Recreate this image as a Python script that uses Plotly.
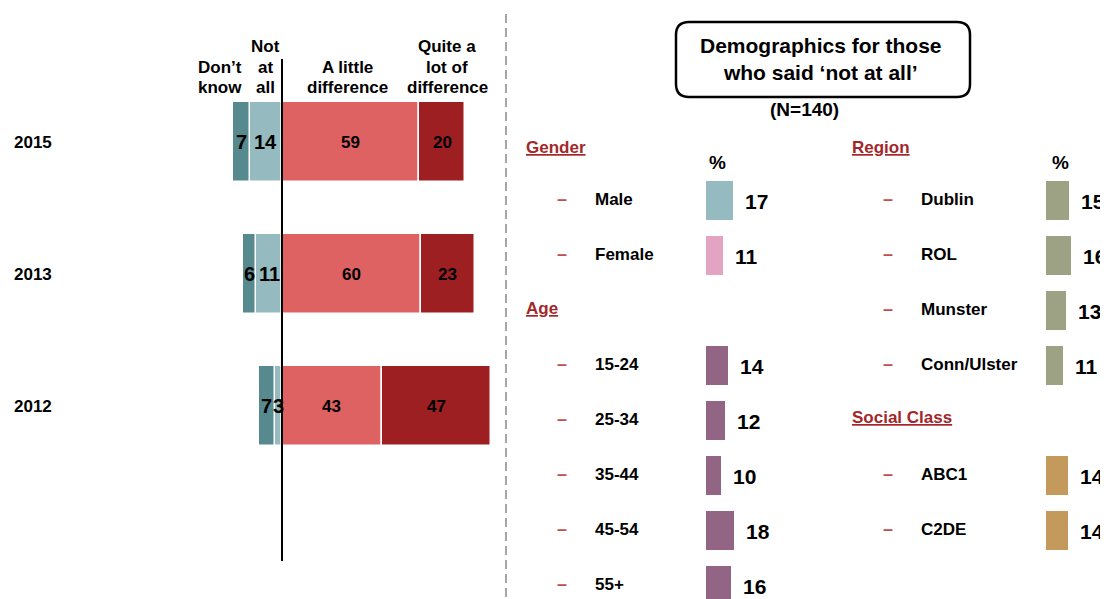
import plotly.graph_objects as go

# page is rendered with an 8px body margin, so the figure is offset by 8px
OFF = 8
PAGE_W, PAGE_H = 1108, 599
W, H = PAGE_W - OFF, PAGE_H - OFF
def px(x): return (x - OFF) / W
def py(y): return 1 - (y - OFF) / H

FONT = "Liberation Sans, Arial, sans-serif"

# ---------------- data ----------------
years = ["2015", "2013", "2012"]
dont_know = [7, 6, 7]
not_at_all = [14, 11, 3]
a_little = [59, 60, 43]
quite_a_lot = [20, 23, 47]

gender_labels = ["Male", "Female"]
gender_values = [17, 11]
age_labels = ["15-24", "25-34", "35-44", "45-54", "55+"]
age_values = [14, 12, 10, 18, 16]
region_labels = ["Dublin", "ROL", "Munster", "Conn/Ulster"]
region_values = [15, 16, 13, 11]
class_labels = ["ABC1", "C2DE"]
class_values = [14, 14]

# ---------------- styles ----------------
C_DK = "#578A8F"
C_NA = "#95BAC0"
C_LD = "#DE6262"
C_QL = "#9D1F22"
C_MALE = "#95BAC0"
C_FEMALE = "#E3A4C4"
C_AGE = "#926584"
C_REGION = "#9CA283"
C_CLASS = "#C49A5C"
C_HEAD = "#A3272A"
C_DASH = "#C0504D"

fig = go.Figure()
annotations = []

# ---------------- left diverging chart ----------------
year_idx = list(range(len(years)))

def seg(vals, neg, color):
    return go.Bar(
        y=year_idx, x=[-v if neg else v for v in vals], orientation="h",
        marker=dict(color=color, line=dict(color="white", width=1.5)),
        width=0.61, hoverinfo="skip", xaxis="x", yaxis="y",
    )

fig.add_trace(seg(not_at_all, True, C_NA))
fig.add_trace(seg(dont_know, True, C_DK))
fig.add_trace(seg(a_little, False, C_LD))
fig.add_trace(seg(quite_a_lot, False, C_QL))

def seg_label(x, yi, v, size):
    annotations.append(dict(x=x, xref="x", y=yi, yref="y", text=str(v),
                            xanchor="center", yanchor="middle", showarrow=False,
                            font=dict(family=FONT, size=size, color="black", weight="bold")))

for i in year_idx:
    na, dk, al, ql = not_at_all[i], dont_know[i], a_little[i], quite_a_lot[i]
    seg_label(-na / 2, i, na, 20)
    seg_label(-(na + dk / 2), i, dk, 20)
    seg_label(al / 2, i, al, 17)
    seg_label(al + ql / 2, i, ql, 17)

ZERO_PX = 282
SCALE = 2.32
L0, L1 = 150, 500
Y0_PX, YSTEP = 142, 132

for i, yr in zip(year_idx, years):
    annotations.append(dict(x=px(12), xref="paper", y=i, yref="y", text=yr,
                            xanchor="left", yanchor="middle", showarrow=False,
                            font=dict(family=FONT, size=17, color="black", weight="bold")))

header_lines = [
    (220, ["Don’t", "know"], [67, 87]),
    (265, ["Not", "at", "all"], [47, 67, 87]),
    (347, ["A little", "difference"], [67, 87]),
    (447, ["Quite a", "lot of", "difference"], [47, 67, 87]),
]
for cx, lines, ys in header_lines:
    for t, yy in zip(lines, ys):
        annotations.append(dict(x=px(cx), xref="paper", y=py(yy), yref="paper", text=t,
                                xanchor="center", yanchor="middle", showarrow=False,
                                font=dict(family=FONT, size=17, color="black", weight="bold")))

# ---------------- demographics ----------------
ROW0, ROWH = 201, 55
TEXT_SHIFT = 2

def demo_block(labels, values, colors, start_row, axis_n, dash_x, label_x, val_size=21):
    rows = [start_row + i for i in range(len(labels))]
    fig.add_trace(go.Bar(
        y=rows, x=values, orientation="h", width=0.71,
        marker=dict(color=colors, line=dict(color="white", width=1)),
        hoverinfo="skip", xaxis=f"x{axis_n}", yaxis=f"y{axis_n}",
    ))
    for lab, v, r in zip(labels, values, rows):
        annotations.append(dict(x=px(dash_x), xref="paper", y=r, yref=f"y{axis_n}", text="–",
                                xanchor="center", yanchor="middle", showarrow=False, yshift=TEXT_SHIFT,
                                font=dict(family=FONT, size=18, color=C_DASH, weight="bold")))
        annotations.append(dict(x=px(label_x), xref="paper", y=r, yref=f"y{axis_n}", text=lab,
                                xanchor="left", yanchor="middle", showarrow=False, yshift=TEXT_SHIFT,
                                font=dict(family=FONT, size=17, color="black", weight="bold")))
        annotations.append(dict(x=v, xref=f"x{axis_n}", y=r, yref=f"y{axis_n}", text=str(v),
                                xanchor="left", yanchor="middle", showarrow=False, xshift=9,
                                font=dict(family=FONT, size=val_size, color="black", weight="bold")))

def section(title, x, y):
    annotations.append(dict(x=px(x), xref="paper", y=py(y), yref="paper",
                            text=f"<u>{title}</u>", xanchor="left", yanchor="middle",
                            showarrow=False,
                            font=dict(family=FONT, size=17, color=C_HEAD, weight="bold")))

# left column
section("Gender", 524, 147)
demo_block(gender_labels, gender_values, [C_MALE, C_FEMALE], 0, 2, 562, 593)
section("Age", 524, 308)
demo_block(age_labels, age_values, [C_AGE] * len(age_values), 3, 2, 562, 593)
# right column
section("Region", 850, 147)
demo_block(region_labels, region_values, [C_REGION] * len(region_values), 0, 3, 888, 919)
section("Social Class", 850, 417)
demo_block(class_labels, class_values, [C_CLASS] * len(class_values), 5, 3, 888, 919)

for cx in (717, 1060):
    annotations.append(dict(x=px(cx), xref="paper", y=py(163), yref="paper", text="%",
                            xanchor="center", yanchor="middle", showarrow=False,
                            font=dict(family=FONT, size=19, color="black", weight="bold")))

# title box
annotations.append(dict(x=px(821), xref="paper", y=py(58.5), yref="paper",
                        text="Demographics for those<br>who said ‘not at all’",
                        xanchor="center", yanchor="middle", showarrow=False,
                        font=dict(family=FONT, size=21, color="black", weight="bold")))
annotations.append(dict(x=px(804), xref="paper", y=py(110), yref="paper", text="(N=140)",
                        xanchor="center", yanchor="middle", showarrow=False,
                        font=dict(family=FONT, size=19, color="black", weight="bold")))

bx0, bx1, by0, by1, r = 676, 970, 22, 97, 13
def P(x, y): return f"{px(x):.5f},{py(y):.5f}"
box_path = (f"M {P(bx0 + r, by0)} L {P(bx1 - r, by0)} Q {P(bx1, by0)} {P(bx1, by0 + r)} "
            f"L {P(bx1, by1 - r)} Q {P(bx1, by1)} {P(bx1 - r, by1)} "
            f"L {P(bx0 + r, by1)} Q {P(bx0, by1)} {P(bx0, by1 - r)} "
            f"L {P(bx0, by0 + r)} Q {P(bx0, by0)} {P(bx0 + r, by0)} Z")

shapes = [
    dict(type="line", xref="x", yref="paper", x0=0, x1=0, y0=py(59), y1=py(561),
         line=dict(color="black", width=2)),
    dict(type="line", xref="paper", yref="paper", x0=px(506), x1=px(506), y0=py(14), y1=0,
         line=dict(color="#A6A6A6", width=2, dash="9px,5px")),
    dict(type="path", xref="paper", yref="paper", path=box_path,
         line=dict(color="black", width=2.5), fillcolor="rgba(0,0,0,0)"),
]

DEMO_SCALE = 1.63
TOP, BOT = OFF, OFF + H
yr_demo = [(BOT - ROW0) / ROWH, (TOP - ROW0) / ROWH]

fig.update_layout(
    width=W, height=H, margin=dict(l=0, r=0, t=0, b=0),
    paper_bgcolor="white", plot_bgcolor="white", showlegend=False,
    barmode="relative", bargap=0,
    xaxis=dict(domain=[px(L0), px(L1)], range=[(L0 - ZERO_PX) / SCALE, (L1 - ZERO_PX) / SCALE],
               visible=False, anchor="y"),
    yaxis=dict(domain=[0, 1], range=[(BOT - Y0_PX) / YSTEP, (TOP - Y0_PX) / YSTEP],
               visible=False, anchor="x"),
    xaxis2=dict(domain=[px(706), px(806)], range=[0, 100 / DEMO_SCALE], visible=False, anchor="y2"),
    yaxis2=dict(domain=[0, 1], range=yr_demo, visible=False, anchor="x2"),
    xaxis3=dict(domain=[px(1046), 1.0], range=[0, (PAGE_W - 1046) / DEMO_SCALE], visible=False, anchor="y3"),
    yaxis3=dict(domain=[0, 1], range=yr_demo, visible=False, anchor="x3"),
    annotations=annotations, shapes=shapes,
)

fig.write_html("out.html")
